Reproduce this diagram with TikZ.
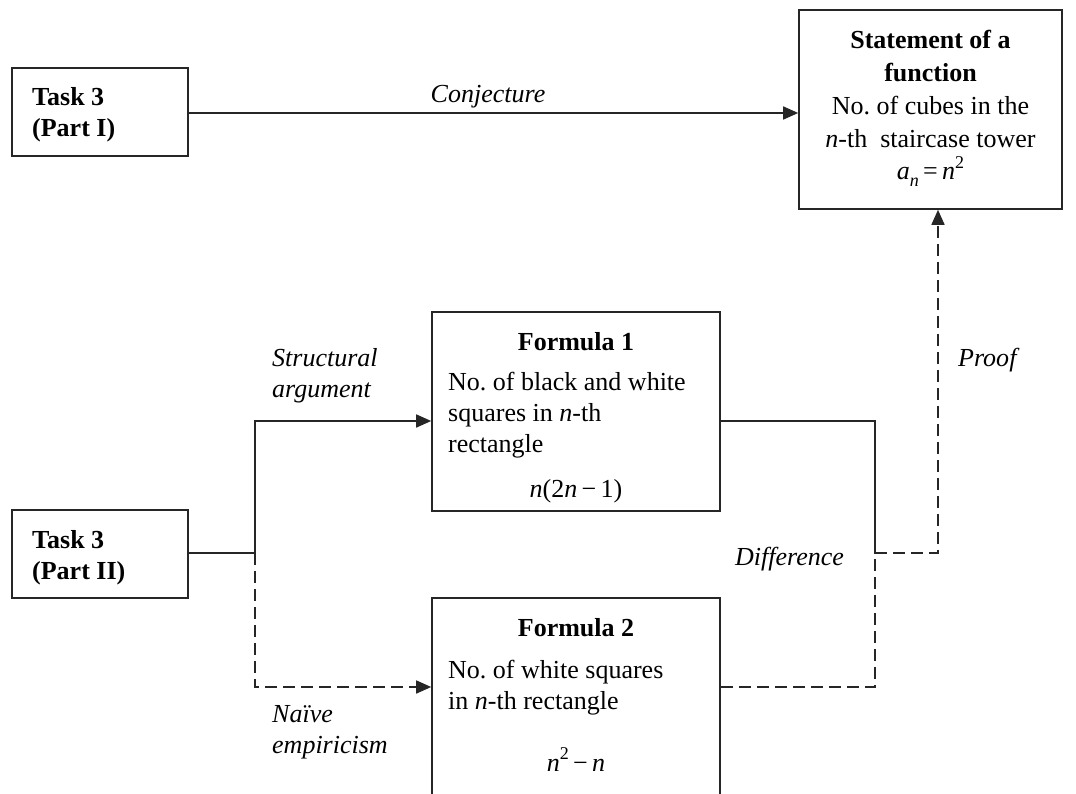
\documentclass[tikz,border=0pt]{standalone}
\usepackage{fontspec}
\setmainfont{Liberation Serif}
\usetikzlibrary{arrows.meta}
\frenchspacing
\newcommand{\mysup}[1]{\raisebox{0.45em}{\fontsize{18}{18}\selectfont #1}}
\newcommand{\mysub}[1]{\raisebox{-0.25em}{\fontsize{18}{18}\selectfont #1}}
\begin{document}
\begin{tikzpicture}[x=1pt,y=-1pt,
  boxst/.style={draw=black!85,line width=1.6pt,rectangle,inner sep=0pt},
  txt/.style={inner sep=0pt,font=\fontsize{26}{31}\selectfont},
  lbl/.style={inner sep=0pt,font=\fontsize{26}{31}\selectfont\itshape},
  conn/.style={draw=black!85,line width=1.6pt},
  dsh/.style={conn,dash pattern=on 12pt off 6pt},
  tip/.style={-{Triangle[length=15pt,width=13pt]}}
]
\useasboundingbox (0,0) rectangle (1076,794);
\clip (0,0) rectangle (1076,794);
% boxes
\node[boxst,minimum width=176pt,minimum height=88pt] (t1) at (100,112) {};
\node[boxst,minimum width=263pt,minimum height=199pt] (st) at (930.5,109.5) {};
\node[boxst,minimum width=288pt,minimum height=199pt] (f1) at (576,411.5) {};
\node[boxst,minimum width=288pt,minimum height=240pt] (f2) at (576,718) {};
\node[boxst,minimum width=176pt,minimum height=88pt] (t2) at (100,554) {};
% box texts (base anchor = last line)
\node[txt,anchor=base west,align=left] (t1t) at (32,137) {\textbf{Task 3}\\\textbf{(Part I)}};
\node[txt,anchor=base west,align=left] (t2t) at (32,579) {\textbf{Task 3}\\\textbf{(Part II)}};
\node[txt,anchor=base] (st1) at (930.5,49) {\textbf{Statement of a}};
\node[txt,anchor=base] (st2) at (930.5,82) {\textbf{function}};
\node[txt,anchor=base] (st3) at (930.5,115) {No. of cubes in the};
\node[txt,anchor=base] (st4) at (930.5,148) {\textit{n}-th\ \ staircase tower};
\node[txt,anchor=base] (st5) at (930.5,180) {\textit{a}\mysub{\textit{n}}\,=\,\textit{n}\mysup{2}};
\node[txt,anchor=base] (f1h) at (576,350) {\textbf{Formula 1}};
\node[txt,anchor=base west,align=left] (f1b) at (448,452) {No. of black and white\\squares in \textit{n}-th\\rectangle};
\node[txt,anchor=base] (f1f) at (576,497) {\textit{n}(2\textit{n}\,−\,1)};
\node[txt,anchor=base] (f2h) at (576,636) {\textbf{Formula 2}};
\node[txt,anchor=base west,align=left] (f2b) at (448,709) {No. of white squares\\in \textit{n}-th rectangle};
\node[txt,anchor=base] (f2f) at (576,771) {\textit{n}\mysup{2}\,−\,\textit{n}};
% labels
\node[lbl,anchor=base] (cj) at (488,103) {Conjecture};
\node[lbl,anchor=base west,align=left] (sa) at (272,397) {Structural\\argument};
\node[lbl,anchor=base west,align=left] (ne) at (272,753) {Naïve\\empiricism};
\node[lbl,anchor=base west] (df) at (735,565) {Difference};
\node[lbl,anchor=base west] (pf) at (958,366) {Proof};
% junction coordinates
\coordinate (j1) at (255,553);
\coordinate (j2) at (875,553);
% connectors
\draw[conn,tip] (t1.east |- 0,113) -- (st.west |- 0,113);
\draw[conn] (t2.east |- j1) -- (j1);
\draw[conn,tip] (j1) -- (j1 |- 0,421) -- (f1.west |- 0,421);
\draw[dsh,tip] (j1) -- (j1 |- 0,687) -- (f2.west |- 0,687);
\draw[conn] (f1.east |- 0,421) -- (j2 |- 0,421) -- (j2);
\draw[dsh] (f2.east |- 0,687) -- (j2 |- 0,687) -- (j2);
\draw[dsh,tip] (j2) -- (938,553) -- (st.south -| 938,0);
\end{tikzpicture}
\end{document}
